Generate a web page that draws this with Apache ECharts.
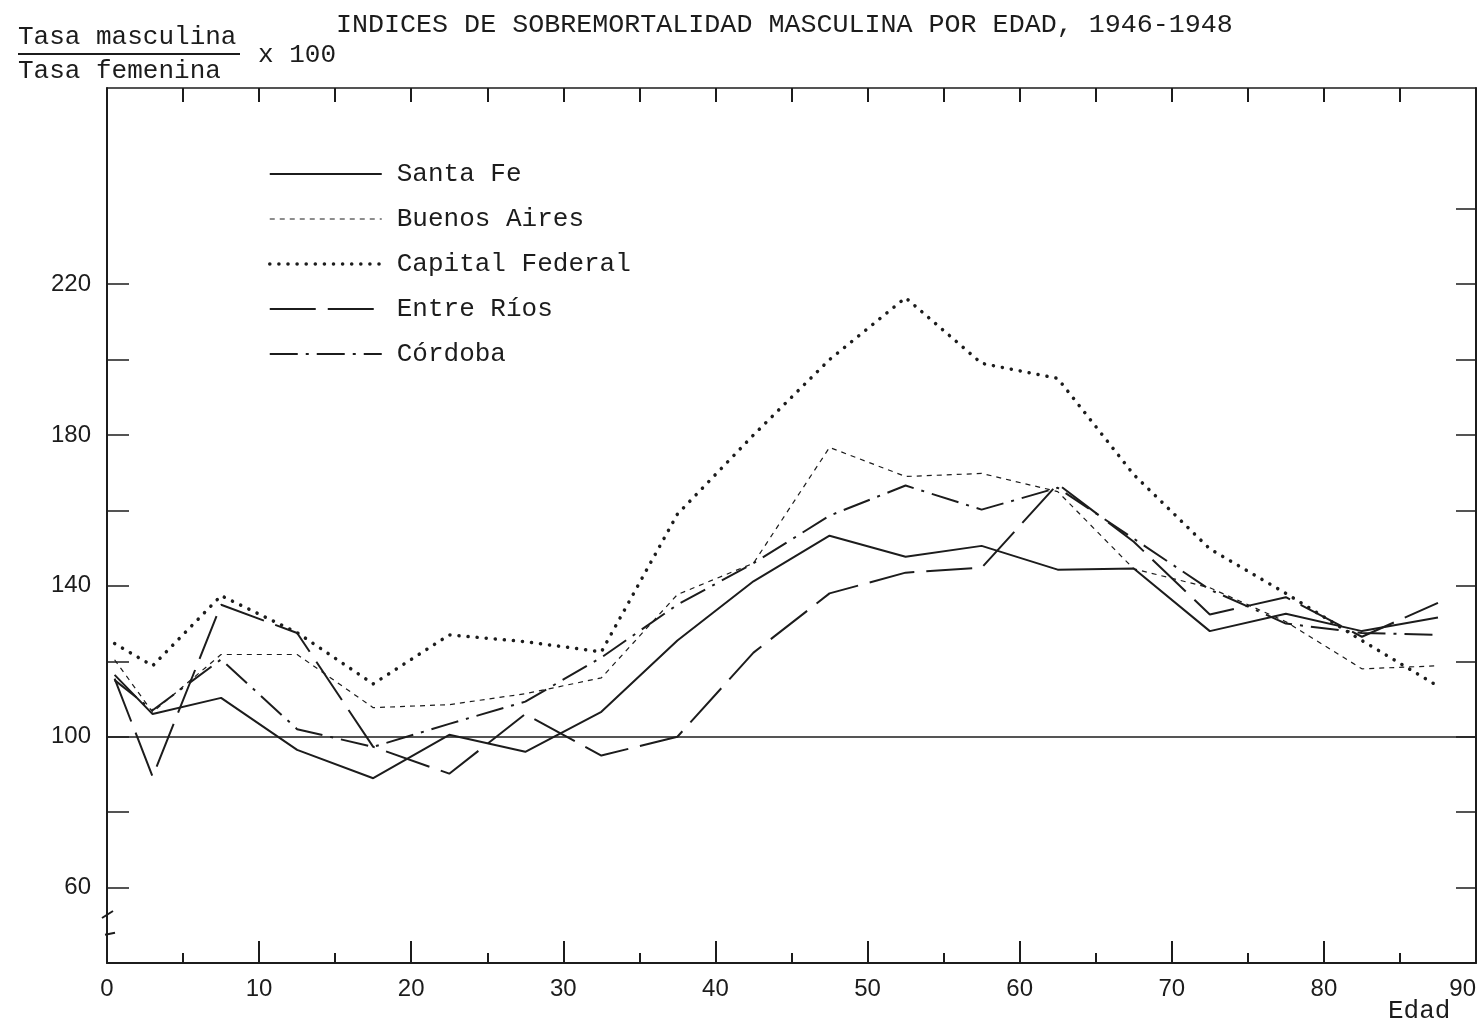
<!DOCTYPE html>
<html>
<head>
<meta charset="utf-8">
<title>Indices de sobremortalidad masculina</title>
<script src="https://cdn.jsdelivr.net/npm/echarts@6/dist/echarts.min.js"></script>
<style>
  html, body { margin: 0; padding: 0; background: #fff; }
  #main { width: 1483px; height: 1030px; }
</style>
</head>
<body>
<div id="main"></div>
<script>
// edad (punto medio del grupo) y tasas masculina/femenina x 100
var ages = [0.5, 3, 7.5, 12.5, 17.5, 22.5, 27.5, 32.5, 37.5, 42.5, 47.5, 52.5, 57.5, 62.5, 67.5, 72.5, 77.5, 82.5, 87.5];
var santaFe = [116.4, 106, 110.3, 96.5, 89, 100.5, 96, 106.6, 125.5, 141.2, 153.3, 147.7, 150.6, 144.3, 144.6, 128, 132.6, 128, 131.6];
var buenosAires = [120.4, 106.5, 121.8, 121.8, 107.7, 108.5, 111.4, 115.6, 137.7, 146, 176.7, 169, 169.8, 165, 144.5, 139.5, 130.5, 118, 118.8];
var capitalFederal = [124.7, 118.8, 137.4, 127.6, 114, 127, 125.2, 122.5, 159, 180, 200, 216.4, 199, 195, 169.5, 149.8, 138, 125.5, 113.4];
var entreRios = [115.4, 89.4, 135, 127.5, 97.3, 90.2, 106, 95, 100, 122.3, 138, 143.5, 144.8, 167, 151.7, 132.4, 137, 126.5, 135.5];
var cordoba = [115, 107, 120.5, 102, 97.3, 103.4, 109.3, 121, 135, 146, 158.6, 166.6, 160.2, 166, 152.5, 139, 130, 127.5, 127];
var yLabels = [60, 100, 140, 180, 220];
var yTicksLeft = [60, 80, 100, 120, 140, 160, 180, 200, 220];
var yTicksRight = [60, 80, 100, 120, 140, 160, 180, 200, 220, 240];

var ink = '#1c1c1c';
var mono = '"Liberation Mono", "DejaVu Sans Mono", monospace';
var sans = '"Liberation Sans", Arial, sans-serif';

function pairs(vals) {
  return ages.map(function (a, i) { return [a, vals[i]]; });
}

var styles = {
  'Santa Fe': { width: 2 },
  'Buenos Aires': { width: 1.2, type: [5, 5] },
  'Capital Federal': { width: 3.5, type: [0.1, 9], cap: 'round' },
  'Entre Ríos': { width: 2, type: [46, 12] },
  'Córdoba': { width: 2, type: [28, 8, 3, 8] }
};

function lineSeries(name, vals) {
  return {
    name: name,
    type: 'line',
    data: pairs(vals),
    symbol: 'none',
    itemStyle: { color: ink },
    lineStyle: Object.assign({ color: ink }, styles[name])
  };
}

var series = [
  lineSeries('Santa Fe', santaFe),
  lineSeries('Buenos Aires', buenosAires),
  lineSeries('Capital Federal', capitalFederal),
  lineSeries('Entre Ríos', entreRios),
  lineSeries('Córdoba', cordoba)
];
// linea de referencia 100
series[0].markLine = {
  silent: true,
  symbol: 'none',
  label: { show: false },
  lineStyle: { color: ink, width: 1.5, type: 'solid' },
  data: [{ yAxis: 100 }]
};

var legendData = series.map(function (s) {
  return {
    name: s.name,
    itemStyle: { opacity: 0 },
    lineStyle: Object.assign({ color: ink, opacity: 1 }, styles[s.name])
  };
});

var chart = echarts.init(document.getElementById('main'));

chart.setOption({
  animation: false,
  backgroundColor: '#fff',
  title: {
    text: 'INDICES DE SOBREMORTALIDAD MASCULINA POR EDAD, 1946-1948',
    left: 331,
    top: 6,
    textStyle: { fontFamily: mono, fontSize: 26.7, fontWeight: 'normal', color: ink }
  },
  legend: {
    orient: 'vertical',
    left: 263,
    top: 156,
    itemWidth: 112,
    itemHeight: 14,
    itemGap: 19,
    textStyle: { fontFamily: mono, fontSize: 26, color: ink, padding: [0, 0, 0, 10] },
    data: legendData
  },
  grid: { left: 107, right: 7, top: 88, bottom: 67, outerBoundsMode: 'none', containLabel: false },
  xAxis: [{
    type: 'value',
    position: 'bottom',
    min: 0,
    max: 90,
    interval: 10,
    axisLine: { show: true, onZero: false, lineStyle: { color: ink, width: 2 } },
    axisTick: { show: true, inside: true, length: 22, lineStyle: { color: ink, width: 2 } },
    minorTick: { show: true, splitNumber: 2, length: 10, lineStyle: { color: ink, width: 2 } },
    axisLabel: { fontFamily: sans, fontSize: 24, color: ink, margin: 14, alignMaxLabel: 'right' },
    splitLine: { show: false }
  }, {
    type: 'value',
    position: 'top',
    min: 0,
    max: 90,
    interval: 5,
    axisLine: { show: true, onZero: false, lineStyle: { color: ink, width: 1.5 } },
    axisTick: { show: true, inside: true, length: 14, lineStyle: { color: ink, width: 2 } },
    axisLabel: { show: false },
    splitLine: { show: false }
  }],
  yAxis: [{
    type: 'value',
    position: 'left',
    min: 40,
    max: 272,
    interval: 20,
    axisLine: { show: true, onZero: false, lineStyle: { color: ink, width: 2 } },
    axisTick: { show: true, inside: true, length: 22, customValues: yTicksLeft, lineStyle: { color: ink, width: 1.5 } },
    axisLabel: { fontFamily: sans, fontSize: 24, color: ink, margin: 16, customValues: yLabels },
    splitLine: { show: false }
  }, {
    type: 'value',
    position: 'right',
    min: 40,
    max: 272,
    interval: 20,
    axisLine: { show: true, onZero: false, lineStyle: { color: ink, width: 2 } },
    axisTick: { show: true, inside: true, length: 20, customValues: yTicksRight, lineStyle: { color: ink, width: 1.5 } },
    axisLabel: { show: false },
    splitLine: { show: false }
  }],
  graphic: [
    { id: 'num', type: 'text', left: 18, top: 24, style: { text: 'Tasa masculina', font: '26px ' + mono, fill: ink } },
    { id: 'bar', type: 'line', shape: { x1: 18, y1: 54, x2: 240, y2: 54 }, style: { stroke: ink, lineWidth: 2 } },
    { id: 'den', type: 'text', left: 18, top: 58, style: { text: 'Tasa femenina', font: '26px ' + mono, fill: ink } },
    { id: 'mul', type: 'text', left: 258, top: 42, style: { text: 'x 100', font: '26px ' + mono, fill: ink } },
    { id: 'edad', type: 'text', left: 1388, top: 998, style: { text: 'Edad', font: '26px ' + mono, fill: ink } }
  ],
  series: series
});

// corte del eje vertical
var x0 = chart.convertToPixel({ xAxisIndex: 0 }, 0);
var yA = chart.convertToPixel({ yAxisIndex: 0 }, 53);
var yB = chart.convertToPixel({ yAxisIndex: 0 }, 47.5);
chart.setOption({
  graphic: [
    { id: 'gap', type: 'rect', shape: { x: x0 - 6, y: yA, width: 12, height: yB - yA }, style: { fill: '#fff' } },
    { id: 'cutA', type: 'line', shape: { x1: x0 - 5, y1: yA + 4, x2: x0 + 6, y2: yA - 3 }, style: { stroke: ink, lineWidth: 2 } },
    { id: 'cutB', type: 'line', shape: { x1: x0 - 2, y1: yB, x2: x0 + 8, y2: yB - 2 }, style: { stroke: ink, lineWidth: 2 } }
  ]
});
</script>
</body>
</html>
